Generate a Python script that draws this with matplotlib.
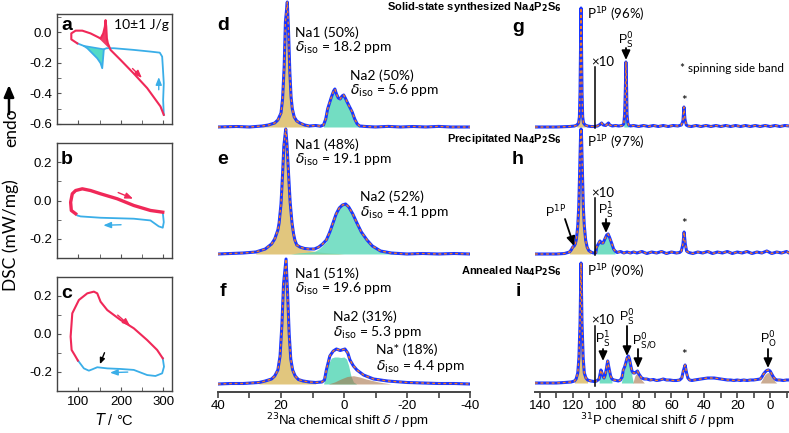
import numpy as np
import matplotlib.pyplot as plt

plt.rcParams['font.family'] = ['Liberation Sans', 'DejaVu Sans']
plt.rcParams['mathtext.fontset'] = 'dejavusans'
plt.rcParams['axes.unicode_minus'] = False

W, H = 789, 433
RED = '#f02858'
CYAN = '#3aaee8'
BLUE = '#1a35ff'
ORANGE = '#f07a28'
TAN = '#dcbc68'
TURQ = '#5ad8b8'
BROWN = '#a8744a'
TXT = 'Lato'

# ---------------- DSC data (T in degC, DSC in mW/mg) ----------------
a_heat_T = [97.6, 83.6, 83.6, 93.7, 109.4, 128.8, 144.5, 152.3, 158.6, 162.4, 164.0, 165.6,
            167.1, 169.4, 175.7, 199.0, 230.3, 261.7, 292.9, 300.7]
a_heat_D = [-0.072, -0.046, -0.007, 0.011, 0.011, -0.007, -0.029, -0.040, -0.007, 0.037, 0.080,
            0.037, -0.040, -0.072, -0.115, -0.180, -0.270, -0.365, -0.485, -0.540]
a_cool_T = [300.7, 299.2, 300.7, 298.4, 296.9, 291.3, 269.4, 230.3, 183.5, 166.3, 160.0,
            156.2, 152.3, 144.5, 132.8, 121.1, 113.1, 97.6]
a_cool_D = [-0.540, -0.442, -0.333, -0.224, -0.159, -0.133, -0.126, -0.115, -0.104, -0.104,
            -0.111, -0.235, -0.202, -0.170, -0.137, -0.104, -0.089, -0.072]

b_heat_T = [93.7, 83.6, 82.0, 85.9, 93.7, 109.4, 128.8, 152.3, 191.4, 230.3, 269.4, 298.3]
b_heat_D = [-0.069, -0.052, -0.009, 0.035, 0.052, 0.061, 0.052, 0.035, 0.009, -0.026, -0.052, -0.061]
b_cool_T = [298.3, 300.7, 298.3, 288.9, 269.4, 230.3, 152.3, 105.4, 97.6, 93.7]
b_cool_D = [-0.061, -0.113, -0.142, -0.135, -0.104, -0.095, -0.090, -0.083, -0.078, -0.069]

c_heat_T = [99.1, 91.3, 84.3, 82.0, 85.9, 101.4, 121.1, 136.6, 144.5, 152.3, 168.0, 199.1,
            230.3, 261.7, 285.1, 298.3]
c_heat_D = [-0.140, -0.110, -0.084, -0.014, 0.109, 0.179, 0.214, 0.223, 0.214, 0.170, 0.126,
            0.074, 0.030, -0.032, -0.084, -0.128]
c_cool_T = [298.3, 301.2, 296.9, 281.2, 261.7, 230.3, 199.1, 168.0, 144.5, 132.8, 124.8,
            113.1, 101.4, 99.1]
c_cool_D = [-0.128, -0.172, -0.207, -0.221, -0.216, -0.189, -0.184, -0.181, -0.175, -0.186,
            -0.193, -0.181, -0.146, -0.140]

# ---------------- 23Na spectra (ppm, intensity) ----------------
na_d_ppm = [40, 34, 30, 26, 24, 22, 21, 20, 19.5, 19, 18.6, 18.0, 17.6, 17.2, 16.8, 16.4, 15.8,
            15.0, 14, 12.5, 11, 9, 7.5, 6.5, 5.8, 5.2, 4.6, 4.0, 3.3, 2.9, 2.4, 1.8, 1.2, 0.6,
            0.1, -0.4, -1.0, -1.8, -2.6, -3.4, -4.2, -5, -7, -10, -14, -18, -22, -26, -30, -34,
            -40]
na_d_int = [0, 0.5, 0, 1, 2, 4, 7, 14, 28, 60, 105, 125, 95, 55, 30, 18, 10, 6, 4, 2, 1, 1.5,
            0.8, 2, 8, 18, 24, 30, 36, 38, 33, 29, 28, 31, 32, 29, 25, 20, 15, 8, 3, 1, 0.5, 0,
            0.6, 0, 0.5, 0, 0.6, 0, 0]

na_e_ppm = [40, 36, 32, 28, 25, 23, 22, 21, 20.6, 20, 19.5, 19.1, 18.5, 18.1, 17.6, 17.1, 16.5,
            16.0, 15.6, 15, 14, 12.5, 11, 9.4, 8, 6.8, 5.6, 4.5, 3.5, 2.5, 1.5, 0.5, -0.5, -1.5,
            -2.8, -4.1, -5.5, -7.3, -9, -11.6, -15, -20, -25, -30, -35, -40]
na_e_int = [0, 0.5, 1, 2, 5, 10, 15, 24, 31, 50, 80, 108, 125, 110, 80, 52, 31, 20, 14, 9, 7,
            5.5, 5, 5, 7, 10, 14, 22, 31, 40, 46, 49, 50, 47, 40, 31, 22, 14, 8, 3, 1, 0, 0.5, 0,
            0.5, 0]
na_e1_ppm = [28, 25, 23, 22, 21, 20.6, 20, 19.5, 19.1, 18.5, 18.1, 17.6, 17.1, 16.5, 16.0,
             15.6, 15, 14, 12.5, 11, 9.4, 8, 6, 4, 2, 0]
na_e1_int = [2, 5, 10, 15, 24, 31, 50, 80, 108, 125, 110, 80, 52, 31, 20, 14, 9, 7, 4.5, 3.5,
             2.8, 2, 1.4, 0.9, 0.5, 0]
na_e2_ppm = [17, 15, 14, 12.5, 11, 9.4, 8, 6.8, 5.6, 4.5, 3.5, 2.5, 1.5, 0.5, -0.5, -1.5, -2.8,
             -4.1, -5.5, -7.3, -9, -11.6, -15, -20]
na_e2_int = [0, 0.8, 1.2, 1.5, 2, 2.5, 5, 8.5, 12.5, 21, 30.5, 40, 46, 49, 50, 47, 40, 31, 22,
             14, 8, 3, 1, 0]

na_f_ppm = [40, 36, 32, 27, 25, 23, 22, 21, 20.3, 19.7, 19.2, 18.4, 17.9, 17.4, 16.9, 16.3,
            15.5, 14.5, 13, 11, 9, 7, 6.2, 5.6, 4.5, 3.4, 2.4, 1.2, -0.3, -1.2, -1.9, -3, -4.1,
            -6.2, -9.4, -13.8, -20, -25, -30, -35, -40]
na_f_int = [0, 0.5, 0.5, 1.5, 3, 5, 8, 14, 28, 60, 100, 125, 90, 50, 25, 14, 8, 4.5, 3, 2, 1.5,
            2, 4, 14, 28, 33, 35, 33.5, 35, 31, 24, 18, 14, 9, 5, 3, 1.5, 1, 0.5, 0.5, 0]
na_f2_ppm = [6.5, 5.8, 5, 4, 3, 2, 1, 0, -0.8, -1.5, -2.2, -3, -4]
na_f2_int = [0, 8, 20, 26, 27, 27, 26.5, 27, 25, 18, 8, 2, 0]
na_f3_ppm = [5, 3, 1, -1, -3, -5, -7, -9, -11, -13, -15]
na_f3_int = [0, 2, 5, 7.5, 8.3, 7, 5, 3.5, 2, 1, 0]

# ---------------- 31P spectra (ppm, intensity) ----------------
p_g_ppm = [143, 130, 122, 119, 117.5, 116.5, 116, 115.6, 115.3, 115.0, 114.7, 114.4, 114.0,
           113.5, 112.5, 111, 109, 107, 105, 103.5, 102.5, 101.5, 100, 99, 98.3, 97.5, 96, 94,
           92, 90, 89, 88.5, 88, 87.7, 87.3, 87, 86.5, 86, 85, 83, 80, 77, 74, 71, 68, 65, 62,
           59, 56, 54, 53, 52.4, 51.8, 51, 50, 48, 45, 42, 39, 36, 33, 30, 27, 24, 21, 18, 15,
           12, 9, 6, 3, 0, -3, -6, -9, -11.5]
p_g_int = [0, 0, 0.5, 1, 2, 4, 10, 35, 80, 119, 80, 35, 10, 4, 2, 1, 0.5, 0.5, 1, 2.5, 4, 2,
           1.5, 3, 4, 2, 1, 1.5, 1, 1.5, 3, 12, 40, 65, 40, 12, 4, 2, 1, 1.5, 0.5, 1.5, 0.5, 1.5,
           0.5, 1.5, 0.5, 1.5, 1, 2, 6, 20, 8, 2, 1, 0.5, 1.5, 0.5, 1.5, 0.5, 1.5, 0.5, 1.5, 0.5,
           1.5, 0.5, 1.5, 0.5, 1.5, 0.5, 1.5, 0.5, 1.5, 0.5, 1.5, 1]

p_h_ppm = [143, 130, 125, 122, 121, 120, 119.2, 118.5, 117.8, 117, 116.4, 115.8, 115.3, 115,
           114.7, 114.2, 113.6, 113, 112.2, 111.3, 110.3, 109, 107.5, 106, 105.5, 104.5, 103.5,
           102.5, 101.6, 100.5, 99.4, 98.5, 97.5, 96.2, 95.2, 94.3, 93, 91, 89, 87, 85, 83, 81,
           78, 75, 72, 69, 66, 63, 60, 57, 55, 54, 53, 52.3, 51.6, 50.8, 49.5, 47, 44, 41, 38,
           35, 32, 29, 26, 23, 20, 17, 14, 11, 8, 5, 2, -1, -4, -7, -10, -11.5]
p_h_int = [0, 0, 0.5, 2, 4, 7, 8, 10, 15, 28, 47, 85, 118, 125, 118, 85, 47, 28, 14, 7, 3.5, 2,
           1, 1, 7, 10, 13, 11, 11, 15, 19, 20, 16, 10, 5, 3, 1.5, 2.5, 1, 2, 1, 2, 1, 2.5, 0.5,
           2, 1, 2.5, 0.5, 2, 1, 1.5, 3, 10, 22, 10, 3, 1.5, 0.5, 2, 1, 2.5, 0.5, 2, 1, 2.5, 0.5,
           2, 1, 2.5, 0.5, 2, 1, 3, 0.5, 2, 1, 2.5, 1]

p_i_ppm = [143, 130, 125, 121, 119, 118, 117, 116.3, 115.6, 115.2, 115, 114.8, 114.4, 113.7,
           113, 112, 111, 109, 107, 105.5, 104, 103.4, 102.9, 102.2, 101.5, 101, 100.3, 99.5,
           98.8, 98, 97, 96.2, 95, 93.5, 92.3, 91, 90, 89.3, 88.5, 87.8, 87, 86.2, 85.5, 84.7,
           84, 83.2, 82.3, 81.5, 80.7, 79.8, 78.1, 76.5, 75, 73, 71, 69, 67, 65, 63, 61, 59, 57,
           55, 53.7, 52.8, 51.7, 50.8, 50, 49, 47.5, 46, 44, 42, 40, 38, 36, 34, 32, 30, 28, 26,
           24, 22, 20, 18, 16, 14, 12, 10, 8, 6, 5, 4, 3, 2, 1, 0, -1, -2, -3, -4, -6, -8, -10,
           -11.5]
p_i_int = [0, 0, 0.5, 1, 2, 4, 10, 25, 60, 100, 120, 100, 60, 25, 10, 5, 3, 2, 1.5, 2, 4, 9,
           13, 10, 6, 5, 8, 15, 22, 15, 7, 4, 3, 2.5, 2, 3, 6, 13, 16, 20, 25, 27, 24, 17, 12,
           10, 10, 11, 12, 9, 5, 4, 4, 3, 3.5, 2.5, 3, 4, 3, 3, 2.5, 2.5, 3, 5, 12, 18, 10, 5, 3,
           2.5, 3, 3.5, 4, 4.5, 5, 5, 5, 4.5, 4, 3.5, 3, 3, 2.5, 3, 2.5, 3, 2.5, 3, 3, 3.5, 4, 6,
           9, 11, 12.5, 13, 12, 9, 6, 4, 3, 3, 2.5, 3, 3]
p_i_s0_ppm = [90.5, 89.3, 88.5, 87.8, 87, 86.2, 85.5, 84.7, 84, 83.2]
p_i_s0_int = [0, 10, 14, 18, 23, 25, 22, 15, 7, 0]
p_i_so_ppm = [83.5, 82.3, 81.5, 80.7, 79.8, 78.1, 76.5]
p_i_so_int = [0, 7, 9, 10, 7, 3, 0]
p_i_o_ppm = [6, 5, 4, 3, 2, 1, 0, -1, -2, -3, -4]
p_i_o_int = [0, 3, 6, 8.5, 10, 10.5, 9.5, 7, 4, 1.5, 0]

fig = plt.figure(figsize=(W / 100, H / 100), dpi=100)


def box(l, t, r, b):
    return [l / W, 1 - b / H, (r - l) / W, (b - t) / H]


def ftext(px, py, s, **kw):
    kw.setdefault('va', 'center')
    fig.text(px / W, 1 - py / H, s, **kw)


def farrow(x0, y0, x1, y1, color='k', lw=1.3, hw=0.25, hl=0.55):
    fig.add_artist(plt.Annotation('', xy=(x1 / W, 1 - y1 / H), xytext=(x0 / W, 1 - y0 / H),
                                  xycoords='figure fraction', textcoords='figure fraction',
                                  arrowprops=dict(arrowstyle=f'-|>,head_width={hw},head_length={hl}',
                                                  color=color, lw=lw, shrinkA=0, shrinkB=0)))


# ---------------- DSC panels ----------------
def dsc_axes(rect, ylim, yticks, labels):
    ax = fig.add_axes(rect)
    ax.set_xlim(50, 320)
    ax.set_ylim(*ylim)
    ax.set_xticks([100, 200, 300])
    ax.set_xticks([150, 250], minor=True)
    ax.set_yticks(yticks)
    ax.set_yticks(np.arange(ylim[0], ylim[1], 0.1), minor=True)
    ax.set_yticklabels([f'{v:.1f}' for v in yticks])
    ax.tick_params(direction='in', which='both', length=3, labelsize=9.5, color='#555')
    if not labels:
        ax.set_xticklabels([])
    for s in ax.spines.values():
        s.set_color('#444')
        s.set_linewidth(1.0)
    return ax


arrow_kw = dict(arrowstyle='-|>,head_width=0.18,head_length=0.45', lw=1)

ax_a = dsc_axes(box(57, 14, 172, 124), (-0.6, 0.12), [0.0, -0.2, -0.4, -0.6], False)
ax_a.fill(a_heat_T[6:15], a_heat_D[6:15], color=RED, alpha=0.9, lw=0)
ax_a.fill(a_cool_T[10:17], a_cool_D[10:17], color='#40d8c0', alpha=0.9, lw=0)
ax_a.plot([113.1, 160.0], [-0.089, -0.111], color=CYAN, lw=1.2)
ax_a.plot(a_cool_T, a_cool_D, color=CYAN, lw=1.3)
ax_a.plot(a_heat_T, a_heat_D, color=RED, lw=1.5)
ax_a.annotate('', xy=(253.9, -0.311), xytext=(222.7, -0.224), arrowprops=dict(color=RED, **arrow_kw))
ax_a.annotate('', xy=(288.9, -0.275), xytext=(288.9, -0.394), arrowprops=dict(color=CYAN, **arrow_kw))
ax_a.text(0.5, 0.9, '10±1 J/g', transform=ax_a.transAxes, fontsize=10, family=TXT, va='center')

ax_b = dsc_axes(box(57, 143, 172, 258), (-0.3, 0.3), [0.2, 0.0, -0.2], False)
ax_b.plot(b_cool_T, b_cool_D, color=CYAN, lw=1.3)
ax_b.plot(b_heat_T, b_heat_D, color=RED, lw=2.4)
ax_b.annotate('', xy=(234.5, 0.004), xytext=(187.6, 0.047), arrowprops=dict(color=RED, **arrow_kw))
ax_b.annotate('', xy=(152.3, -0.13), xytext=(206.9, -0.126), arrowprops=dict(color=CYAN, **arrow_kw))

ax_c = dsc_axes(box(57, 277, 172, 391), (-0.3, 0.3), [0.2, 0.0, -0.2], True)
ax_c.plot(c_cool_T, c_cool_D, color=CYAN, lw=1.3)
ax_c.plot(c_heat_T, c_heat_D, color=RED, lw=1.5)
ax_c.annotate('', xy=(226.5, 0.033), xytext=(187.5, 0.109), arrowprops=dict(color=RED, **arrow_kw))
ax_c.annotate('', xy=(168.0, -0.204), xytext=(222.6, -0.2), arrowprops=dict(color=CYAN, **arrow_kw))
ax_c.annotate('', xy=(148.3, -0.172), xytext=(164.0, -0.085),
              arrowprops=dict(arrowstyle='-|>,head_width=0.15,head_length=0.35', lw=1, color='k'))
ax_c.set_xlabel('$T$ / °C', fontsize=10.5, labelpad=3)

ftext(11, 235, 'DSC (mW/mg)', rotation=90, ha='center', fontsize=12.5, family=TXT)
ftext(11, 128, 'endo', rotation=90, ha='center', fontsize=12.5, family=TXT)
farrow(9, 114, 9, 85, lw=1.8, hw=0.3, hl=0.7)

# ---------------- NMR axes ----------------
def nmr_axes(rect, xlim):
    ax = fig.add_axes(rect)
    ax.set_xlim(*xlim)
    ax.set_ylim(0, 392)
    ax.patch.set_alpha(0)
    for k in ['left', 'right', 'top']:
        ax.spines[k].set_visible(False)
    ax.spines['bottom'].set_color('#444')
    ax.spines['bottom'].set_linewidth(1.4)
    ax.set_yticks([])
    ax.tick_params(axis='x', which='both', direction='out', length=4, width=1.2,
                   color='#444', labelsize=9.5, pad=1.5)
    return ax


def spec(ax, x, y, off):
    x = np.array(x)
    y = np.array(y) + off
    ax.plot(x, y, color=BLUE, lw=2.2, solid_capstyle='round')
    ax.plot(x, y, color=ORANGE, lw=1.0, ls=(0, (2, 2)))


def comp(ax, x, y, off, color, lo=None, hi=None, alpha=0.85):
    x = np.array(x)
    y = np.array(y)
    where = None
    if lo is not None:
        where = (x >= lo) & (x <= hi)
    ax.fill_between(x, off, off + y, where=where, color=color, alpha=alpha, lw=0)


ax_na = nmr_axes(box(218, 0, 470, 392), (40, -40))
ax_na.set_xticks([40, 20, 0, -20, -40])
ax_na.set_xticks(np.arange(-40, 41, 10), minor=True)
ftext(347, 425, '$^{23}$Na chemical shift $\\delta$ / ppm', ha='center', va='baseline',
      fontsize=9.5)

OFF_D, OFF_E, OFF_F = 265, 138, 8
comp(ax_na, na_d_ppm, na_d_int, OFF_D, TAN, 10, 27)
comp(ax_na, na_d_ppm, na_d_int, OFF_D, TURQ, -6, 7)
spec(ax_na, na_d_ppm, na_d_int, OFF_D)
comp(ax_na, na_e1_ppm, na_e1_int, OFF_E, TAN)
comp(ax_na, na_e2_ppm, na_e2_int, OFF_E, TURQ, alpha=0.8)
spec(ax_na, na_e_ppm, na_e_int, OFF_E)
comp(ax_na, na_f_ppm, na_f_int, OFF_F, TAN, 8, 28)
comp(ax_na, na_f2_ppm, na_f2_int, OFF_F, TURQ)
comp(ax_na, na_f3_ppm, na_f3_int, OFF_F, BROWN, alpha=0.6)
spec(ax_na, na_f_ppm, na_f_int, OFF_F)

ax_p = nmr_axes(box(535, 0, 789, 392), (143, -11.5))
ax_p.set_xticks(np.arange(0, 141, 20))
ax_p.set_xticks(np.arange(-10, 141, 10), minor=True)
ftext(657, 425, '$^{31}$P chemical shift $\\delta$ / ppm', ha='center', va='baseline',
      fontsize=9.5)

OFF_G, OFF_H, OFF_I = 265, 138, 9
comp(ax_p, p_g_ppm, p_g_int, OFF_G, TAN, 112, 118)
comp(ax_p, p_g_ppm, p_g_int, OFF_G, TURQ, 86, 89.5)
spec(ax_p, p_g_ppm, p_g_int, OFF_G)
comp(ax_p, p_h_ppm, p_h_int, OFF_H, TAN, 108, 122)
comp(ax_p, p_h_ppm, p_h_int, OFF_H, TURQ, 94, 105.5)
spec(ax_p, p_h_ppm, p_h_int, OFF_H)
comp(ax_p, p_i_ppm, p_i_int, OFF_I, TAN, 111, 119)
comp(ax_p, p_i_ppm, p_i_int, OFF_I, TURQ, 96, 104.5)
comp(ax_p, p_i_s0_ppm, p_i_s0_int, OFF_I, TURQ)
comp(ax_p, p_i_so_ppm, p_i_so_int, OFF_I, BROWN, alpha=0.6)
comp(ax_p, p_i_o_ppm, p_i_o_int, OFF_I, BROWN, alpha=0.6)
spec(ax_p, p_i_ppm, p_i_int, OFF_I)

# ---------------- annotations ----------------
for x, y, s in [(67, 26, 'a'), (67, 159, 'b'), (67, 293, 'c'), (223, 26, 'd'), (223, 159, 'e'),
                (223, 292, 'f'), (518, 27, 'g'), (518, 159, 'h'), (518, 292, 'i')]:
    ftext(x, y, s, fontsize=14, fontweight='bold', ha='center')

fs = 10
na_labels = [(295, 33, 'Na1 (50%)'), (295, 48, '$\\delta_{\\rm iso}$ = 18.2 ppm'),
             (350, 76, 'Na2 (50%)'), (350, 91, '$\\delta_{\\rm iso}$ = 5.6 ppm'),
             (295, 145, 'Na1 (48%)'), (295, 160, '$\\delta_{\\rm iso}$ = 19.1 ppm'),
             (360, 197, 'Na2 (52%)'), (360, 213, '$\\delta_{\\rm iso}$ = 4.1 ppm'),
             (295, 274, 'Na1 (51%)'), (295, 289, '$\\delta_{\\rm iso}$ = 19.6 ppm'),
             (333, 317, 'Na2 (31%)'), (333, 333, '$\\delta_{\\rm iso}$ = 5.3 ppm'),
             (376, 350, 'Na* (18%)'), (376, 367, '$\\delta_{\\rm iso}$ = 4.4 ppm')]
for x, y, s in na_labels:
    ftext(x, y, s, fontsize=fs, family=TXT)

bold_sub = 'Na$_\\mathbf{4}$P$_\\mathbf{2}$S$_\\mathbf{6}$'
ftext(562, 7, 'Solid-state synthesized ' + bold_sub, ha='right', fontsize=8, fontweight='bold')
ftext(562, 139, 'Precipitated ' + bold_sub, ha='right', fontsize=8, fontweight='bold')
ftext(562, 271, 'Annealed ' + bold_sub, ha='right', fontsize=8, fontweight='bold')

ftext(587, 15, 'P$^{\\rm 1P}$ (96%)', fontsize=9.5, family=TXT)
ftext(587, 143, 'P$^{\\rm 1P}$ (97%)', fontsize=9.5, family=TXT)
ftext(587, 272, 'P$^{\\rm 1P}$ (90%)', fontsize=9.5, family=TXT)

for y, (l0, l1) in zip([62, 193, 320], [(67, 128), (198, 255), (326, 386)]):
    ftext(591, y, '×10', fontsize=9.5, family=TXT)
    fig.add_artist(plt.Line2D([595 / W, 595 / W], [1 - l0 / H, 1 - l1 / H], color='k', lw=1.1))

ftext(680, 69, '* spinning side band', fontsize=8.5, family=TXT)
for y in [101, 224, 355]:
    ftext(684, y, '*', fontsize=9.5, ha='center', family=TXT)

pfs = 9
ftext(626, 41, 'P$^{0}_{\\rm S}$', fontsize=pfs, ha='center')
farrow(626, 48, 626, 60)
ftext(556, 212, 'P$^{\\rm 1P}$', fontsize=pfs, ha='center')
farrow(565, 219, 574, 246)
ftext(606, 211, 'P$^{1}_{\\rm S}$', fontsize=pfs, ha='center')
farrow(606, 219, 606, 233)
ftext(603, 340, 'P$^{1}_{\\rm S}$', fontsize=pfs, ha='center')
farrow(603, 349, 603, 361)
ftext(627, 318, 'P$^{0}_{\\rm S}$', fontsize=pfs, ha='center')
farrow(627, 326, 627, 356)
ftext(645, 341, 'P$^{0}_{\\rm S/O}$', fontsize=pfs, ha='center')
farrow(638, 349, 638, 368)
ftext(768, 340, 'P$^{0}_{\\rm O}$', fontsize=pfs, ha='center')
farrow(768, 349, 768, 368)

fig.savefig('out.png', dpi=100)
